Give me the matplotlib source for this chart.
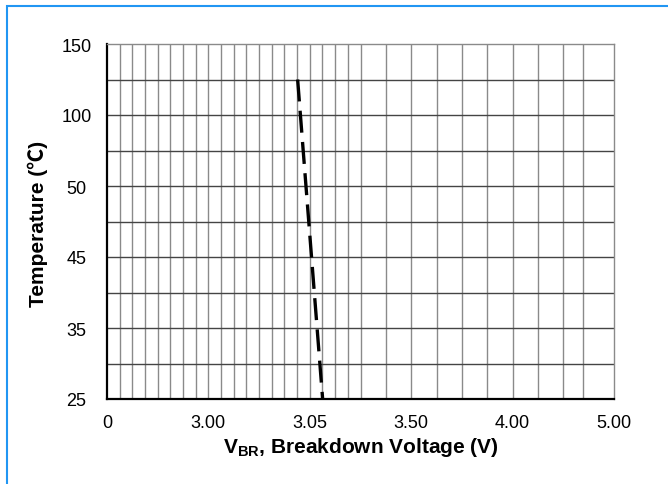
import numpy as np
import matplotlib
matplotlib.use("Agg")
import matplotlib.pyplot as plt
from matplotlib.patches import Rectangle

plt.rcParams['font.family'] = ['Liberation Sans', 'Noto Sans CJK SC', 'DejaVu Sans']
plt.rcParams['mathtext.fontset'] = 'custom'
plt.rcParams['mathtext.rm'] = 'Liberation Sans'
plt.rcParams['mathtext.bf'] = 'Liberation Sans:bold'

# ---- data ----
x_tick_vals = [0, 3.00, 3.05, 3.50, 4.00, 5.00]
x_tick_labels = ['0', '3.00', '3.05', '3.50', '4.00', '5.00']
y_tick_vals = [25, 35, 45, 50, 100, 150]
y_tick_labels = ['25', '35', '45', '50', '100', '150']
voltage = [3.044, 3.107]
temperature = [125, 25]

# category-like (piecewise linear) scales
xi = np.arange(len(x_tick_vals), dtype=float)
yi = np.arange(len(y_tick_vals), dtype=float)

def xf(v):
    return np.interp(v, x_tick_vals, xi)

def xinv(v):
    return np.interp(v, xi, x_tick_vals)

def yf(v):
    return np.interp(v, y_tick_vals, yi)

def yinv(v):
    return np.interp(v, yi, y_tick_vals)

W, H = 668, 485
fig = plt.figure(figsize=(W / 100, H / 100), dpi=100)
ax = fig.add_axes([107 / W, 85 / H, 507 / W, 355 / H])
ax.set_xscale('function', functions=(xf, xinv))
ax.set_yscale('function', functions=(yf, yinv))
ax.set_xlim(x_tick_vals[0], x_tick_vals[-1])
ax.set_ylim(y_tick_vals[0], y_tick_vals[-1])

# grid lines (positions in index space, converted to data space)
vgrid_idx = np.r_[np.arange(0.125, 2.5, 0.125), np.arange(2.5, 4.75, 0.25), 4.697]
for g in xinv(vgrid_idx):
    ax.axvline(g, color='#8a8a8a', lw=1.0, zorder=1)
hgrid_idx = np.arange(0.5, 5.0, 0.5)
for g in yinv(hgrid_idx):
    ax.axhline(g, color='#444444', lw=1.0, zorder=1)

ax.plot(voltage, temperature, color='black', lw=2.4, dashes=(6.6, 2.8), zorder=3)

ax.set_xticks(x_tick_vals)
ax.set_xticklabels(x_tick_labels, fontsize=13)
ax.set_yticks(y_tick_vals)
ax.set_yticklabels(y_tick_labels, fontsize=13, ha='center')
ax.xaxis.set_minor_locator(matplotlib.ticker.NullLocator())
ax.yaxis.set_minor_locator(matplotlib.ticker.NullLocator())
ax.tick_params(axis='both', length=0)
ax.tick_params(axis='x', pad=11)
ax.tick_params(axis='y', pad=22)

for s in ['left', 'bottom']:
    ax.spines[s].set_color('black')
    ax.spines[s].set_linewidth(1.6)
for s in ['top', 'right']:
    ax.spines[s].set_color('#8a8a8a')
    ax.spines[s].set_linewidth(1.0)

ax.set_xlabel(r'$\mathbf{V_{BR}}$, Breakdown Voltage (V)', fontsize=15, fontweight='bold')
ax.xaxis.label.set_va('center')
ax.xaxis.set_label_coords(361 / W, (485 - 448) / H, transform=fig.transFigure)

ax.set_ylabel('Temperature (℃)', fontsize=15, fontweight='bold')
ax.yaxis.label.set_va('center')
ax.yaxis.set_label_coords(38 / W, (485 - 224) / H, transform=fig.transFigure)

# blue frame
fig.patches.append(Rectangle((7 / W, -0.1), 1.2, 1 - 7 / H + 0.1, transform=fig.transFigure,
                             fill=False, edgecolor='#2196F3', lw=1.5, clip_on=False))

fig.savefig('out.png', dpi=100)
